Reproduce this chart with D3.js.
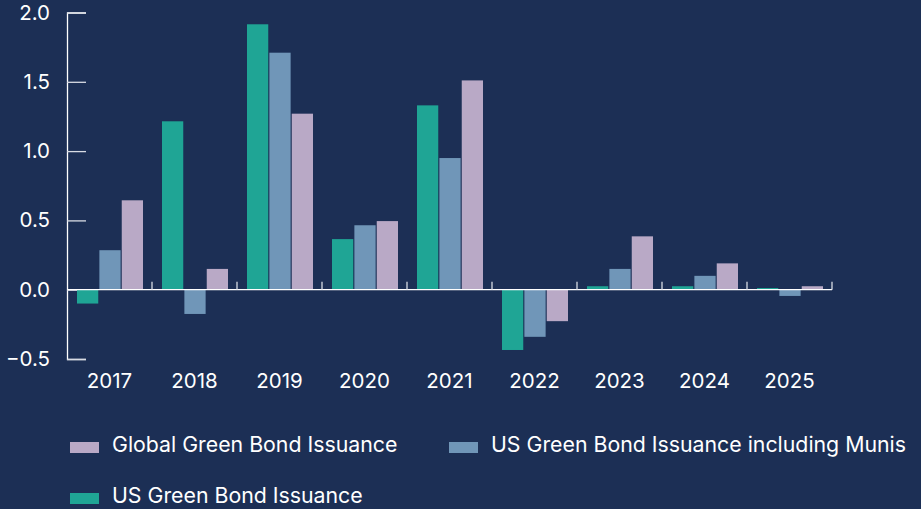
<!DOCTYPE html>
<html>
<head>
<meta charset="utf-8">
<script src="https://cdn.jsdelivr.net/npm/d3@7"></script>
<style>
  body { margin: 0; background: #1c2f55; }
  svg { display: block; font-family: Inter, "Liberation Sans", sans-serif; }
</style>
</head>
<body>
<svg id="chart"></svg>
<script>
const years = ["2017", "2018", "2019", "2020", "2021", "2022", "2023", "2024", "2025"];
const usGreen = [-0.10, 1.215, 1.915, 0.365, 1.33, -0.435, 0.025, 0.025, 0.012];
const usMunis = [0.285, -0.175, 1.71, 0.465, 0.95, -0.34, 0.15, 0.10, -0.045];
const globalGreen = [0.645, 0.15, 1.27, 0.495, 1.51, -0.227, 0.385, 0.19, 0.025];
const yTicks = [-0.5, 0, 0.5, 1.0, 1.5, 2.0];

const seriesNames = ["US Green Bond Issuance", "US Green Bond Issuance including Munis", "Global Green Bond Issuance"];
const seriesColors = ["#1fa595", "#7096b8", "#b9a9c6"];
const seriesValues = [usGreen, usMunis, globalGreen];

var W = 921, H = 509;
var margin = { left: 67, right: 89, top: 12.5 };

const svg = d3.select("#chart").attr("width", W).attr("height", H);

const x = d3.scaleBand().domain(years).range([margin.left, W - margin.right]);
const y = d3.scaleLinear().domain([-0.5, 2.0]).range([359, 12.5]);

const xSub = d3.scaleBand()
  .domain(d3.range(3))
  .range([10, x.bandwidth() - 9])
  .paddingInner(0.05);

// y axis
const yAxis = svg.append("g")
  .attr("transform", `translate(${margin.left},0)`)
  .call(d3.axisRight(y).tickValues(yTicks).tickSize(19).tickFormat(d3.format(".1f")));
yAxis.select(".domain").attr("stroke", "#fff").attr("stroke-width", 1.3);
yAxis.selectAll(".tick line").attr("stroke", "#d8dce4").attr("stroke-width", 1.3);
yAxis.selectAll(".tick text")
  .attr("x", -17)
  .attr("text-anchor", "end")
  .attr("fill", "#fff")
  .attr("font-size", "20.5px")
  .attr("font-family", "Inter, 'Liberation Sans', sans-serif");

// bars
const groups = svg.append("g")
  .selectAll("g")
  .data(years)
  .join("g")
  .attr("transform", d => `translate(${x(d)},0)`);

groups.selectAll("rect")
  .data((d, i) => seriesValues.map((s, k) => ({ k: k, value: s[i] })))
  .join("rect")
  .attr("x", d => xSub(d.k))
  .attr("width", xSub.bandwidth())
  .attr("y", d => y(Math.max(0, d.value)))
  .attr("height", d => Math.abs(y(d.value) - y(0)))
  .attr("fill", d => seriesColors[d.k]);

// zero line with category ticks
const xAxis = svg.append("g")
  .attr("transform", `translate(0,${y(0)})`);
xAxis.append("line")
  .attr("x1", margin.left).attr("x2", W - margin.right)
  .attr("stroke", "#fff").attr("stroke-width", 1.3);
xAxis.selectAll("line.tk")
  .data(years.slice(1).map(d => x(d)).concat([x(years[years.length - 1]) + x.bandwidth()]))
  .join("line")
  .attr("class", "tk")
  .attr("x1", d => d).attr("x2", d => d)
  .attr("y1", 0).attr("y2", -8)
  .attr("stroke", "#d8dce4").attr("stroke-width", 1.3);

svg.append("g")
  .selectAll("text")
  .data(years)
  .join("text")
  .attr("x", d => x(d) + x.bandwidth() / 2)
  .attr("y", 388)
  .attr("text-anchor", "middle")
  .attr("fill", "#fff")
  .attr("font-size", "20.5px")
  .text(d => d);

// legend
const legendItems = [
  { k: 2, x: 70, y: 442 },
  { k: 1, x: 449, y: 442 },
  { k: 0, x: 70, y: 493 }
];
const legend = svg.append("g");
legend.selectAll("rect")
  .data(legendItems)
  .join("rect")
  .attr("x", d => d.x).attr("y", d => d.y)
  .attr("width", 29).attr("height", 11)
  .attr("fill", d => seriesColors[d.k]);
legend.selectAll("text")
  .data(legendItems)
  .join("text")
  .attr("x", d => d.x + 42)
  .attr("y", d => d.y + 9.5)
  .attr("fill", "#fff")
  .attr("font-size", "21.3px")
  .text(d => seriesNames[d.k]);
</script>
</body>
</html>
